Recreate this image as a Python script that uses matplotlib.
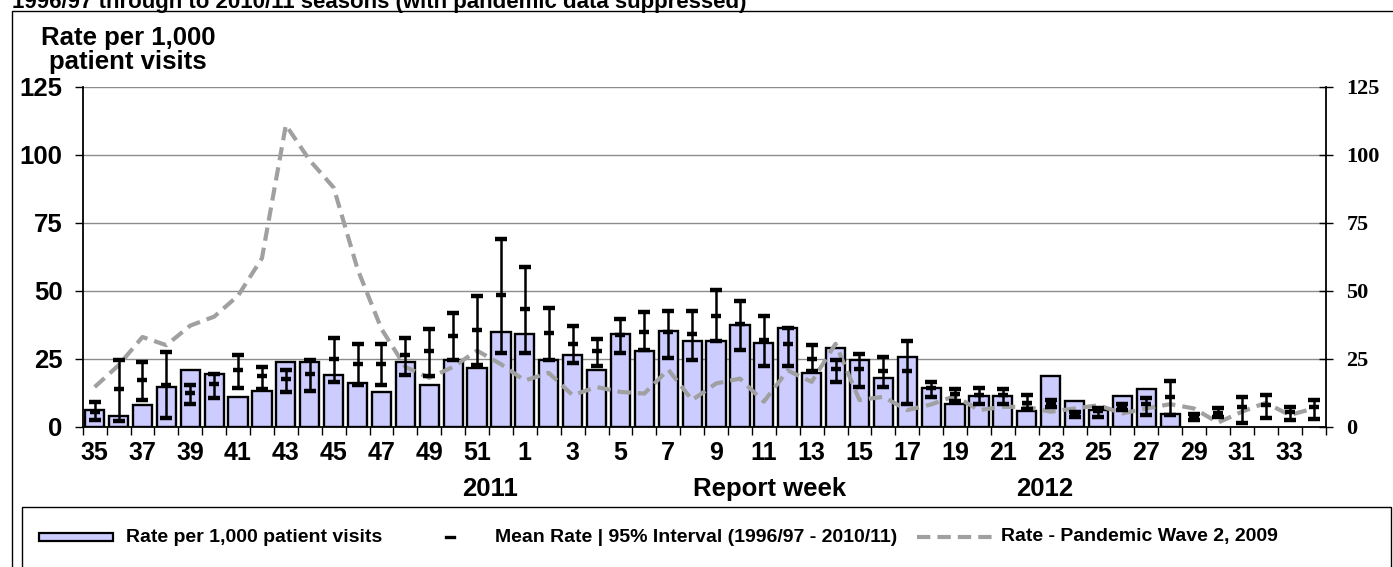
import numpy as np
import matplotlib
matplotlib.use("Agg")
import matplotlib.pyplot as plt
from matplotlib.patches import Rectangle
from matplotlib.lines import Line2D

# ---------------- data ----------------
weeks = list(range(35, 53)) + list(range(1, 35))

rate = [6, 4, 8, 14.5, 21, 19.3, 11.1, 13, 23.8, 23.8, 19.2, 16.2, 12.6, 23.8, 15.4, 24.6, 21.5, 34.8,
        34.2, 24.4, 26.2, 21, 34.2, 28, 35.1, 31.4, 31.4, 37.6, 30.9, 36.2, 19.7, 28.8, 24.7, 17.8,
        25.8, 14.2, 8.3, 11.3, 11.3, 5.8, 18.7, 9.4, 6.1, 11.2, 13.9, 4.6,
        np.nan, np.nan, np.nan, np.nan, np.nan, np.nan]

mean_rate = [5.5, 13.7, 17.1, 15.3, 12.4, 15.6, 20.7, 18.5, 17.4, 19.5, 25, 23.2, 23.2, 26.5, 28, 33.5, 35.7, 48.6,
             43.3, 34.4, 30.5, 28, 33.9, 35, 34.8, 34.2, 40.6, 37.8, 32, 30.5, 25, 21.2, 21.4, 20.5,
             20.5, 14.4, 12.2, 11.6, 11.6, 8.9, 8.5, 4.6, 5.9, 7.6, 8.5, 11, 3.7, 5.2, 7.1, 7.9, 5.5, 7.3]

lower_95 = [2.6, 2.2, 9.8, 3.2, 8.3, 10.7, 14.4, 13.7, 12.8, 13.2, 16.5, 15.3, 15.5, 19.2, 18.6, 24.4, 22.8, 27.1,
            27.1, 24.4, 23.4, 22.3, 27.1, 28.1, 25.3, 24.4, 31.4, 28.1, 22.3, 22.3, 20.4, 16.6, 14.5, 14.7,
            8.4, 11, 9.5, 8.3, 8.5, 6.5, 7.1, 3.4, 3.7, 6.1, 4.3, 4.3, 2.4, 3.7, 1.5, 3.3, 2.4, 3]

upper_95 = [9.2, 24.4, 23.8, 27.5, 15.3, 19.5, 26.2, 22, 20.7, 24.4, 32.7, 30.5, 30.5, 32.7, 36, 41.7, 48.2, 68.9,
            58.6, 43.6, 37, 32.3, 39.7, 42.1, 42.6, 42.7, 50.3, 46.4, 40.9, 36.2, 29.9, 24.6, 26.7, 25.6,
            31.4, 16.5, 14, 14.4, 14, 11.6, 9.8, 5.3, 7, 8.3, 10.4, 16.8, 4.6, 7, 11, 11.6, 7.1, 9.8]

pandemic_2009 = [14.6, 22.6, 33, 30, 37.2, 40.5, 48.2, 62, 111, 98, 88, 58, 36, 22, 18, 22, 28, 23,
                 17, 19.8, 11.6, 14.6, 12.8, 12.2, 21, 9.8, 15.9, 17.7, 9.2, 20.7, 16.5, 30.5, 9.8, 11,
                 6.1, 8.2, 11.3, 6.1, 7.3, 7.3, 5.5, 6.7, 7.9, 4.9, 6.7, 8.3, 6.7, 1.5, 5.5, 8.8, 4.3, 6.7]

tick_labels = [str(w) for w in weeks[::2]]
y_ticks = [0, 25, 50, 75, 100, 125]
year_labels = ["2011", "Report week", "2012"]
legend_labels = ["Rate per 1,000 patient visits",
                 "Mean Rate | 95% Interval (1996/97 - 2010/11)",
                 "Rate - Pandemic Wave 2, 2009"]
title = "1996/97 through to 2010/11 seasons (with pandemic data suppressed)"

# ---------------- layout helpers ----------------
W, H = 1393, 567
fig = plt.figure(figsize=(W / 100, H / 100), dpi=100)
fig.patch.set_facecolor("white")


def fx(px):
    return px / W


def fy(py):
    return 1 - py / H


SANS = ["Liberation Sans", "DejaVu Sans"]
SERIF = ["Liberation Serif", "DejaVu Serif"]
BAR_COLOR = "#CCCCFF"
LINE_GRAY = "#A0A0A0"

ax = fig.add_axes([fx(82.7), fy(426.7), fx(1325.5) - fx(82.7), fy(87) - fy(426.7)])
x = np.arange(len(weeks))
mean_arr = np.array(mean_rate)
lo = mean_arr - np.array(lower_95)
hi = np.array(upper_95) - mean_arr

ax.bar(x, rate, width=0.8, color=BAR_COLOR, edgecolor="black", linewidth=1.7, zorder=2)
ax.plot(x, pandemic_2009, color=LINE_GRAY, lw=3.0, dashes=(3.2, 1.7), zorder=3,
        solid_capstyle="butt", dash_capstyle="butt")
ax.errorbar(x, mean_arr, yerr=[lo, hi], fmt="_", color="black", ms=7, mew=3.2,
            elinewidth=1.8, capsize=4.5, capthick=1.8, zorder=4)

ax.set_xlim(-0.5, len(weeks) - 0.5)
ax.set_ylim(0, 125)
ax.set_yticks(y_ticks)
ax.set_yticklabels([str(v) for v in y_ticks], fontfamily=SANS, fontweight="bold", fontsize=18.5)
ax.yaxis.grid(True, color="#8C8C8C", lw=1.0, zorder=0)
ax.set_axisbelow(True)

ax.set_xticks(x[::2])
ax.set_xticklabels(tick_labels, fontfamily=SANS, fontweight="bold", fontsize=18)
ax.set_xticks(np.arange(-0.5, len(weeks), 1), minor=True)
ax.tick_params(axis="x", which="major", length=0, pad=10.5)
ax.tick_params(axis="x", which="minor", length=5.5, width=1.0, direction="out")
ax.tick_params(axis="y", which="major", length=5.5, width=1.0, direction="out", pad=9)

for side in ["left", "bottom"]:
    ax.spines[side].set_color("black")
    ax.spines[side].set_linewidth(1.3)
ax.spines["top"].set_visible(False)
ax.spines["right"].set_visible(False)

ax2 = ax.twinx()
ax2.set_ylim(0, 125)
ax2.set_yticks(y_ticks)
ax2.set_yticklabels([str(v) for v in y_ticks], fontfamily=SERIF, fontweight="bold", fontsize=16)
ax2.tick_params(axis="y", length=10, width=1.0, direction="inout", pad=10)
ax2.spines["right"].set_color("black")
ax2.spines["right"].set_linewidth(1.3)
for side in ["left", "top", "bottom"]:
    ax2.spines[side].set_visible(False)

# y-axis title
fig.text(fx(128), fy(50), "Rate per 1,000\npatient visits", ha="center", va="center",
         fontfamily=SANS, fontweight="bold", fontsize=18.5, linespacing=0.95)

# year / axis labels under the x axis
for lbl, px in zip(year_labels, [490, 770, 1045]):
    fig.text(fx(px), fy(489), lbl, ha="center", va="center",
             fontfamily=SANS, fontweight="bold", fontsize=18.5)

# title, clipped by the top edge as in the source picture
fig.text(fx(12), fy(8.3), title, ha="left", va="baseline",
         fontfamily=SANS, fontweight="bold", fontsize=16)

# outer frame and legend box
fig.add_artist(Rectangle((fx(11.7), fy(600)), fx(1500) - fx(11.7), fy(10.7) - fy(600),
                         transform=fig.transFigure, fill=False, edgecolor="black", lw=1.0))
fig.add_artist(Rectangle((fx(21.7), fy(600)), fx(1391) - fx(21.7), fy(506.7) - fy(600),
                         transform=fig.transFigure, fill=False, edgecolor="black", lw=1.0))

# legend entries
ly = 537
fig.add_artist(Rectangle((fx(39), fy(ly + 4)), fx(113) - fx(39), fy(ly - 4) - fy(ly + 4),
                         transform=fig.transFigure, facecolor=BAR_COLOR, edgecolor="black", lw=1.6))
fig.add_artist(Line2D([fx(446), fx(454)], [fy(ly), fy(ly)], transform=fig.transFigure,
                      color="black", lw=2.4))
fig.add_artist(Line2D([fx(917), fx(996)], [fy(ly), fy(ly)], transform=fig.transFigure,
                      color=LINE_GRAY, lw=3.0, dashes=(3.2, 1.7)))
for lbl, px in zip(legend_labels, [126, 495, 1001]):
    fig.text(fx(px), fy(ly), lbl, ha="left", va="center",
             fontfamily=SANS, fontweight="bold", fontsize=14)

fig.savefig("out.png", dpi=100)
